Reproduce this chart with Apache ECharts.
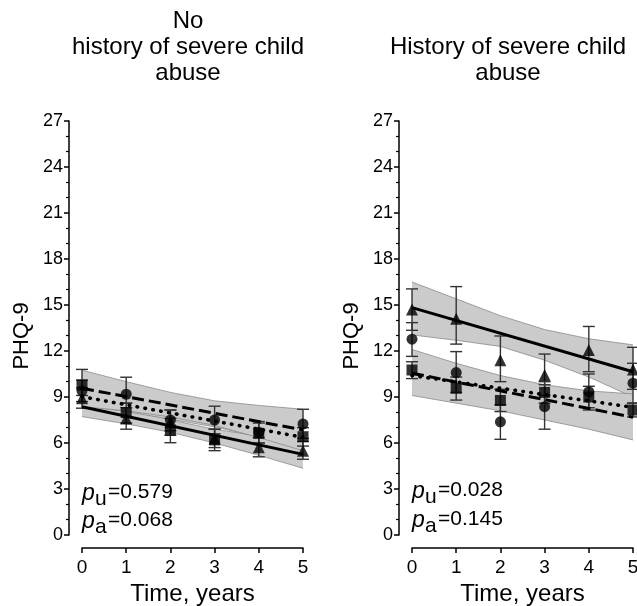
<!DOCTYPE html>
<html>
<head>
<meta charset="utf-8">
<script src="https://cdn.jsdelivr.net/npm/echarts@6/dist/echarts.min.js"></script>
<style>
  html, body { margin: 0; padding: 0; background: #fff; }
  #chart { width: 637px; height: 606px; }
</style>
</head>
<body>
<div id="chart"></div>
<script>
// time points (years)
const years = [0, 1, 2, 3, 4, 5]
const fitX = [0, 5]
const yTicks = [0, 27, 3]

// No history of severe child abuse
const noCircle = [9.4, 9.18, 7.5, 7.5, 6.7, 7.24]
const noCircleLo = [8.7, 8.6, 6.8, 6.6, 6.0, 6.3]
const noCircleHi = [10.1, 10.29, 8.15, 8.4, 7.4, 8.2]
const noSquare = [9.78, 7.98, 6.85, 6.2, 6.63, 6.41]
const noSquareLo = [9.1, 7.3, 6.02, 5.5, 6.0, 5.8]
const noSquareHi = [10.8, 8.6, 7.6, 6.9, 7.3, 7.0]
const noTriangle = [8.92, 7.6, 7.35, 6.3, 5.72, 5.5]
const noTriangleLo = [8.27, 6.9, 6.5, 5.7, 5.1, 4.94]
const noTriangleHi = [9.6, 8.3, 8.15, 6.9, 6.35, 6.1]
const noSolidFit = [8.37, 5.26]
const noDottedFit = [9.02, 6.37]
const noDashedFit = [9.57, 6.85]
const noSolidBandLo = [7.72, 7.25, 6.7, 6.0, 5.2, 4.35]
const noSolidBandHi = [9.0, 8.2, 7.5, 6.9, 6.45, 6.15]
const noDottedBandLo = [8.45, 8.05, 7.55, 7.05, 6.4, 5.7]
const noDottedBandHi = [9.6, 9.0, 8.45, 7.85, 7.4, 7.05]
const noDashedBandLo = [8.37, 8.1, 7.7, 7.15, 6.35, 5.5]
const noDashedBandHi = [10.75, 10.0, 9.3, 8.75, 8.45, 8.2]

// History of severe child abuse
const yesCircle = [12.77, 10.59, 7.38, 8.37, 9.35, 9.9]
const yesCircleLo = [11.65, 9.3, 6.24, 6.9, 8.3, 8.6]
const yesCircleHi = [13.85, 11.96, 8.5, 9.8, 10.5, 11.2]
const yesSquare = [10.76, 9.57, 8.77, 9.3, 9.0, 8.15]
const yesSquareLo = [10.2, 8.8, 8.05, 8.6, 8.15, 7.7]
const yesSquareHi = [11.3, 10.3, 9.5, 10.0, 9.7, 8.6]
const yesTriangle = [14.7, 14.1, 11.4, 10.44, 12.07, 10.8]
const yesTriangleLo = [13.35, 12.45, 10.0, 9.1, 10.65, 9.5]
const yesTriangleHi = [16.05, 16.2, 12.98, 11.8, 13.6, 12.24]
const yesSolidFit = [14.83, 10.65]
const yesDottedFit = [10.4, 8.33]
const yesDashedFit = [10.55, 7.68]
const yesSolidBandLo = [13.05, 12.7, 12.3, 11.4, 10.3, 9.0]
const yesSolidBandHi = [16.5, 15.4, 14.3, 13.4, 12.8, 12.4]
const yesDottedBandLo = [9.6, 9.3, 9.0, 8.6, 8.2, 7.7]
const yesDottedBandHi = [11.2, 10.6, 10.1, 9.7, 9.3, 8.95]
const yesDashedBandLo = [9.1, 8.6, 8.1, 7.5, 6.9, 6.2]
const yesDashedBandHi = [12.1, 11.2, 10.4, 9.8, 9.4, 9.2]

const FONT = '"Liberation Sans", Arial, Helvetica, sans-serif'

// grey confidence band between lo and hi
const bandSeries = (idx, lo, hi) => ({
  type: 'custom',
  xAxisIndex: idx,
  yAxisIndex: idx,
  z: 1,
  silent: true,
  data: [[0, 0]],
  renderItem: (params, api) => {
    const top = years.map((x, i) => api.coord([x, hi[i]]))
    const bot = years.map((x, i) => api.coord([x, lo[i]]))
    return {
      type: 'group',
      children: [
        { type: 'polygon', shape: { points: top.concat(bot.slice().reverse()) }, style: { fill: '#cbcbcb' } },
        { type: 'polyline', shape: { points: top }, style: { stroke: '#8a8a8a', lineWidth: 0.8, fill: null } },
        { type: 'polyline', shape: { points: bot }, style: { stroke: '#8a8a8a', lineWidth: 0.8, fill: null } }
      ]
    }
  }
})

const errorSeries = (idx, lo, hi) => ({
  type: 'custom',
  xAxisIndex: idx,
  yAxisIndex: idx,
  z: 3,
  silent: true,
  data: years.map((x, i) => [x, lo[i], hi[i]]),
  renderItem: (params, api) => {
    const a = api.coord([api.value(0), api.value(1)])
    const b = api.coord([api.value(0), api.value(2)])
    const w = 6
    const st = { stroke: '#333', lineWidth: 1.4 }
    return {
      type: 'group',
      children: [
        { type: 'line', shape: { x1: a[0], y1: a[1], x2: b[0], y2: b[1] }, style: st },
        { type: 'line', shape: { x1: a[0] - w, y1: a[1], x2: a[0] + w, y2: a[1] }, style: st },
        { type: 'line', shape: { x1: b[0] - w, y1: b[1], x2: b[0] + w, y2: b[1] }, style: st }
      ]
    }
  }
})

const fitSeries = (idx, vals, dash, width, cap) => ({
  type: 'line',
  xAxisIndex: idx,
  yAxisIndex: idx,
  z: 4,
  silent: true,
  symbol: 'none',
  data: fitX.map((x, i) => [x, vals[i]]),
  lineStyle: { color: '#000', width, type: dash, cap }
})

const markSeries = (idx, vals, symbol, size) => ({
  type: 'scatter',
  xAxisIndex: idx,
  yAxisIndex: idx,
  z: 5,
  silent: true,
  symbol,
  symbolSize: size,
  itemStyle: { color: '#000' },
  data: years.map((x, i) => [x, vals[i]])
})

const panelSeries = (idx, d) => [
  bandSeries(idx, d.solidLo, d.solidHi),
  bandSeries(idx, d.dottedLo, d.dottedHi),
  bandSeries(idx, d.dashedLo, d.dashedHi),
  errorSeries(idx, d.triLo, d.triHi),
  errorSeries(idx, d.cirLo, d.cirHi),
  errorSeries(idx, d.sqLo, d.sqHi),
  fitSeries(idx, d.solid, 'solid', 3, 'butt'),
  fitSeries(idx, d.dotted, [0.5, 7.5], 3.6, 'round'),
  fitSeries(idx, d.dashed, [12, 5], 3, 'butt'),
  markSeries(idx, d.tri, 'triangle', 12),
  markSeries(idx, d.cir, 'circle', 11),
  markSeries(idx, d.sq, 'rect', 11)
]

const xAxisOf = (idx) => ({
  type: 'value',
  gridIndex: idx,
  min: 0, max: 5, interval: 1,
  offset: 13,
  name: 'Time, years',
  nameLocation: 'middle',
  nameGap: 32,
  nameTextStyle: { color: '#000', fontSize: 24, fontFamily: FONT, verticalAlign: 'top' },
  axisLine: { show: true, onZero: false, lineStyle: { color: '#000', width: 1.5 } },
  axisTick: { show: true, length: 5, lineStyle: { color: '#000', width: 1.5 } },
  axisLabel: { color: '#000', fontSize: 19, fontFamily: FONT, margin: 10 },
  splitLine: { show: false }
})

const yAxisOf = (idx) => ({
  type: 'value',
  gridIndex: idx,
  min: yTicks[0], max: yTicks[1], interval: yTicks[2],
  offset: 13,
  name: 'PHQ-9',
  nameLocation: 'middle',
  nameGap: 36,
  nameTextStyle: { color: '#000', fontSize: 22, fontFamily: FONT, padding: [0, 16, 0, 0] },
  axisLine: { show: true, onZero: false, lineStyle: { color: '#000', width: 1.5 } },
  axisTick: { show: true, length: 5, lineStyle: { color: '#000', width: 1.5 } },
  minorTick: { show: true, splitNumber: 3, length: 3, lineStyle: { color: '#000', width: 1.2 } },
  axisLabel: { color: '#000', fontSize: 18, fontFamily: FONT, margin: 6 },
  splitLine: { show: false },
  minorSplitLine: { show: false }
})

const pText = (x, y, sub, val) => [
  { type: 'text', left: x, top: y, style: { text: 'p', font: 'italic 23px ' + FONT, fill: '#000' } },
  { type: 'text', left: x + 13, top: y + 7, style: { text: sub, font: '21px ' + FONT, fill: '#000' } },
  { type: 'text', left: x + 26, top: y, style: { text: val, font: '21px ' + FONT, fill: '#000' } }
]

const chart = echarts.init(document.getElementById('chart'), null, { renderer: 'canvas' })
chart.setOption({
  animation: false,
  backgroundColor: '#fff',
  title: [
    { text: 'No\nhistory of severe child\nabuse', left: 183, top: 3, textAlign: 'center',
      textStyle: { fontSize: 24, fontWeight: 'normal', color: '#000', fontFamily: FONT, lineHeight: 26 } },
    { text: 'History of severe child\nabuse', left: 503, top: 29, textAlign: 'center',
      textStyle: { fontSize: 24, fontWeight: 'normal', color: '#000', fontFamily: FONT, lineHeight: 26 } }
  ],
  grid: [
    { left: 82, top: 121, width: 221, height: 414, outerBoundsMode: 'none' },
    { left: 412, top: 121, width: 221, height: 414, outerBoundsMode: 'none' }
  ],
  xAxis: [xAxisOf(0), xAxisOf(1)],
  yAxis: [yAxisOf(0), yAxisOf(1)],
  graphic: [
    ...pText(82, 482, 'u', '=0.579'),
    ...pText(82, 510, 'a', '=0.068'),
    ...pText(412, 480, 'u', '=0.028'),
    ...pText(412, 509, 'a', '=0.145')
  ],
  series: [
    ...panelSeries(0, {
      solid: noSolidFit, dotted: noDottedFit, dashed: noDashedFit,
      solidLo: noSolidBandLo, solidHi: noSolidBandHi,
      dottedLo: noDottedBandLo, dottedHi: noDottedBandHi,
      dashedLo: noDashedBandLo, dashedHi: noDashedBandHi,
      tri: noTriangle, triLo: noTriangleLo, triHi: noTriangleHi,
      cir: noCircle, cirLo: noCircleLo, cirHi: noCircleHi,
      sq: noSquare, sqLo: noSquareLo, sqHi: noSquareHi
    }),
    ...panelSeries(1, {
      solid: yesSolidFit, dotted: yesDottedFit, dashed: yesDashedFit,
      solidLo: yesSolidBandLo, solidHi: yesSolidBandHi,
      dottedLo: yesDottedBandLo, dottedHi: yesDottedBandHi,
      dashedLo: yesDashedBandLo, dashedHi: yesDashedBandHi,
      tri: yesTriangle, triLo: yesTriangleLo, triHi: yesTriangleHi,
      cir: yesCircle, cirLo: yesCircleLo, cirHi: yesCircleHi,
      sq: yesSquare, sqLo: yesSquareLo, sqHi: yesSquareHi
    })
  ]
})
</script>
</body>
</html>
